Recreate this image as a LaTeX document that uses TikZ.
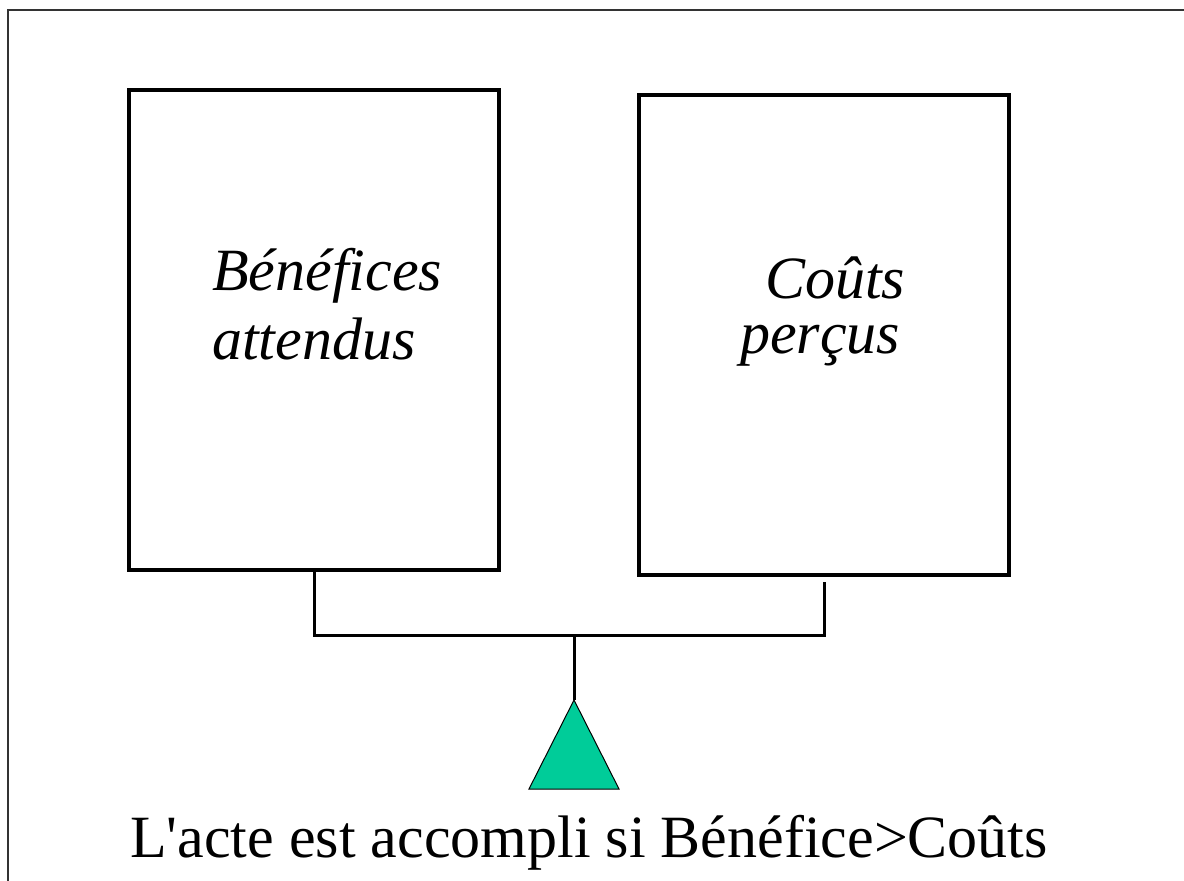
\documentclass[tikz,border=0pt]{standalone}
\usepackage{fontspec}
\setmainfont{Liberation Serif}[Ligatures=TeXOff]
\usetikzlibrary{positioning}
\definecolor{pivotgreen}{HTML}{00CC99}

\begin{document}
\begin{tikzpicture}[x=1pt, y=-1pt]
      \tikzstyle{pan} = [rectangle, draw = black, line width = 4pt, minimum width = 370pt, minimum height = 480pt, inner sep = 0pt]
      \tikzstyle{label} = [inner sep = 0pt, anchor = base west, font = \fontsize{60}{68}\selectfont\itshape]
      \tikzstyle{beam} = [line width = 3pt]
      \useasboundingbox (0,0) rectangle (1184,881);
      \draw[line width = 1.5pt, black!80] (1184,10) -- (8,10) -- (8,881);
      \node[pan] (benef) at (314,330) {};
      \node[pan] (couts) at (824,335) {};
      \node[label] (benef1) at (212,290) {Bénéfices};
      \node[label] (benef2) at (212,359) {attendus};
      \node[label] (couts1) at (765,298) {Coûts};
      \node[label] (couts2) at (740,353) {perçus};
      \coordinate (pivot) at (574,635);
      \coordinate (apex) at (574,700);
      \coordinate (baseL) at (529,789);
      \coordinate (baseR) at (619,789);
      \draw[beam] (benef.south) |- (pivot);
      \draw[beam] ([yshift=-5pt]couts.south) |- (pivot);
      \draw[beam] (pivot) -- (apex);
      \draw[fill = pivotgreen, line width = 1pt] (apex) -- (baseR) -- (baseL) -- cycle;
      \node[inner sep = 0pt, anchor = base, font = \fontsize{60}{68}\selectfont] (rule) at (589,857) {L'acte est accompli si Bénéfice>Coûts};
    \end{tikzpicture}
\end{document}
